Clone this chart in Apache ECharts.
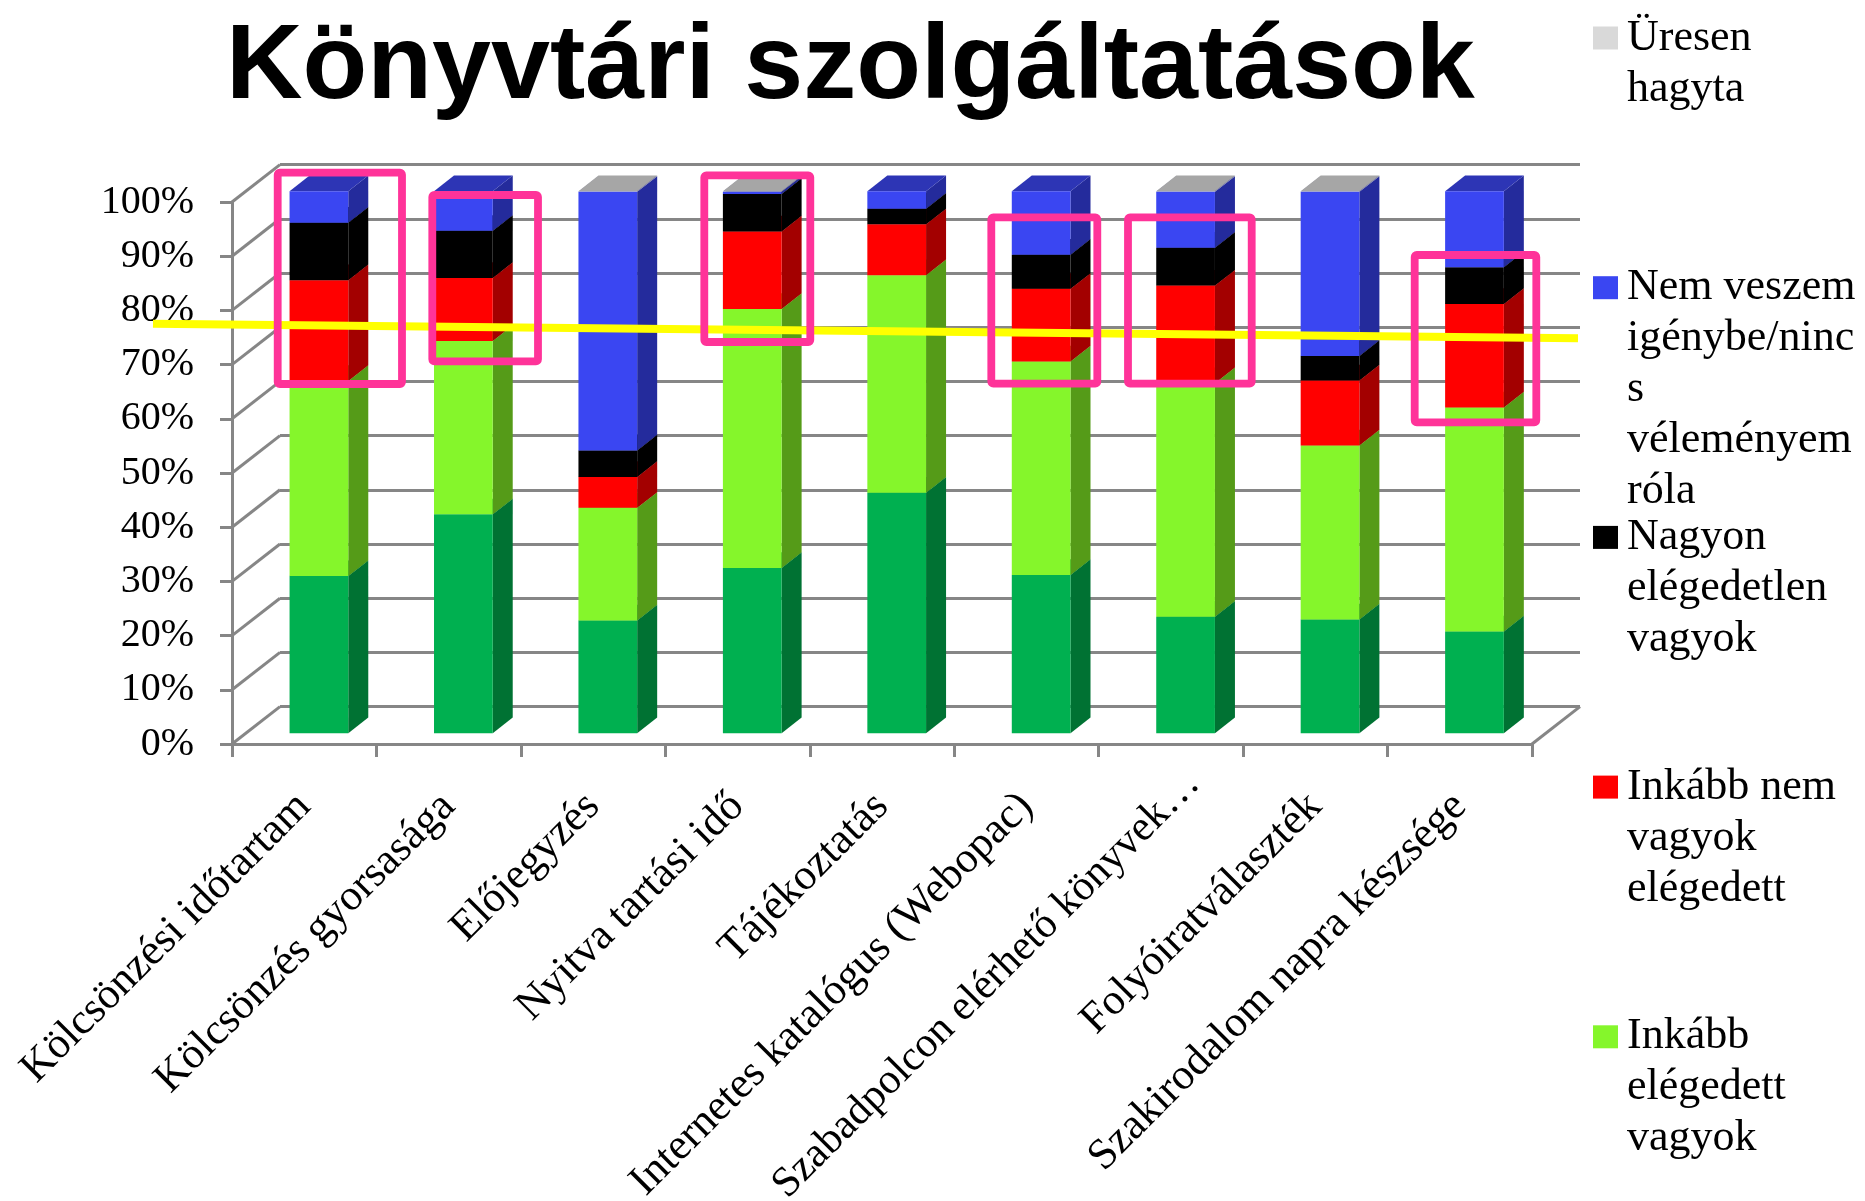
<!DOCTYPE html>
<html>
<head>
<meta charset="utf-8">
<style>html,body{margin:0;padding:0;background:#fff;overflow:hidden}#c{width:1865px;height:1201px}</style>
<script src="https://cdn.jsdelivr.net/npm/echarts@6/dist/echarts.min.js"></script>
</head>
<body>
<div id="c"></div>
<script>
const titleText = 'Könyvtári szolgáltatások';
const categories = ['Kölcsönzési időtartam','Kölcsönzés gyorsasága','Előjegyzés','Nyitva tartási idő','Tájékoztatás','Internetes katalógus (Webopac)','Szabadpolcon elérhető könyvek…','Folyóiratválaszték','Szakirodalom napra készsége'];
const tickValues = [0,10,20,30,40,50,60,70,80,90,100];

const nagyonElegedett = [29.0,40.4,20.8,30.5,44.4,29.2,21.5,21.0,18.8];
const inkabbElegedett = [36.0,32.0,20.8,47.8,40.1,39.4,43.1,32.1,41.3];
const inkabbNem       = [18.6,11.6,5.7,14.3,9.4,13.4,18.0,12.0,19.1];
const nagyonElegedetlen=[10.6,8.7,4.9,6.9,2.9,6.3,7.0,4.5,6.8];
const nemVeszem       = [5.8,7.3,47.7,0.4,3.2,11.7,10.3,30.3,14.0];
const uresen          = [0,0,0.1,0.1,0,0,0.1,0.1,0];

const seriesNames = ['Nagyon elégedett vagyok','Inkább elégedett vagyok','Inkább nem vagyok elégedett','Nagyon elégedetlen vagyok','Nem veszem igénybe/nincs véleményem róla','Üresen hagyta'];
const seriesValues = [nagyonElegedett,inkabbElegedett,inkabbNem,nagyonElegedetlen,nemVeszem,uresen];
const frontColors = ['#00b050','#85f62b','#ff0000','#000000','#3a46f2','#d9d9d9'];
const sideColors  = ['#007233','#559b18','#a30000','#000000','#242b9c','#a6a6a6'];
const topColors   = ['#00853c','#64b820','#c00000','#000000','#2d35b5','#a6a6a6'];

const legendLines = {
  'Üresen hagyta':['Üresen','hagyta'],
  'Nem veszem igénybe/nincs véleményem róla':['Nem veszem','igénybe/ninc','s','véleményem','róla'],
  'Nagyon elégedetlen vagyok':['Nagyon','elégedetlen','vagyok'],
  'Inkább nem vagyok elégedett':['Inkább nem','vagyok','elégedett'],
  'Inkább elégedett vagyok':['Inkább','elégedett','vagyok']
};
const legendOrder = ['Üresen hagyta','Nem veszem igénybe/nincs véleményem róla','Nagyon elégedetlen vagyok','Inkább nem vagyok elégedett','Inkább elégedett vagyok'];

const GRAY = '#868686', SERIF = '"Liberation Serif", serif';
const LEFT = 232, RIGHT_W = 1300, TOP = 202, H = 542;
const WALL_DX = 48, WALL_DY = 37.4, BAR_OX = 14.7, BAR_OY = 10.7, BAR_DX = 20, BAR_DY = 15.7;
const LEG_LH = 51, LEG_X = 1593, LEG_Y0 = 36, LEG_STEP = 249.7;

function barRenderer(si){
  return function(params, api){
    const i = api.value(0), lo = api.value(1), hi = api.value(2);
    if (hi - lo <= 0) return {type:'group', children:[]};
    const c = api.coord([i, lo]), t = api.coord([i, hi]);
    const w = api.size([1,0])[0] * 0.4065;
    const x0 = c[0] + BAR_OX - w/2, x1 = x0 + w;
    const yb = c[1] - BAR_OY, yt = t[1] - BAR_OY;
    return {type:'group', children:[
      {type:'polygon', shape:{points:[[x1,yb],[x1+BAR_DX,yb-BAR_DY],[x1+BAR_DX,yt-BAR_DY],[x1,yt]]}, style:{fill:sideColors[si]}},
      {type:'polygon', shape:{points:[[x0,yt],[x0+BAR_DX,yt-BAR_DY],[x1+BAR_DX,yt-BAR_DY],[x1,yt]]}, style:{fill:topColors[si]}},
      {type:'rect', shape:{x:x0,y:yt,width:w,height:yb-yt}, style:{fill:frontColors[si]}}
    ]};
  };
}
function wallRenderer(params, api){
  const v = api.value(0);
  const p = api.coord([0, v]);
  const cs = params.coordSys;
  const kids = [{type:'line', shape:{x1:cs.x,y1:p[1],x2:cs.x+WALL_DX,y2:p[1]-WALL_DY}, style:{stroke:GRAY,lineWidth:3}}];
  if (v === 0) kids.push({type:'line', shape:{x1:cs.x+cs.width,y1:p[1],x2:cs.x+cs.width+WALL_DX,y2:p[1]-WALL_DY}, style:{stroke:GRAY,lineWidth:3}});
  return {type:'group', children:kids};
}

const barSeries = seriesNames.map(function(name, si){
  const data = categories.map(function(_, i){
    let lo = 0;
    for (let k = 0; k < si; k++) lo += seriesValues[k][i];
    return [i, lo, lo + seriesValues[si][i]];
  });
  return {type:'custom', name:name, xAxisIndex:0, yAxisIndex:0, z:3+si, renderItem:barRenderer(si),
    encode:{x:0,y:[1,2]}, itemStyle:{color:frontColors[si]}, data:data, silent:true, clip:false};
});

const legends = legendOrder.map(function(name){
  const lines = legendLines[name];
  const n = lines.length;
  const total = 2*n - 1;
  const idx = seriesNames.length - 1 - seriesNames.indexOf(name);
  return {
    show:true, orient:'vertical', left:LEG_X, top:LEG_Y0 + idx*LEG_STEP - total*LEG_LH/2,
    padding:0, icon:'rect', itemWidth:25, itemHeight:23, selectedMode:false,
    data:[name],
    formatter:function(){ return '\n'.repeat(n-1) + lines.join('\n'); },
    textStyle:{fontFamily:SERIF,fontSize:44,lineHeight:LEG_LH,color:'#000',padding:[4,0,0,4]}
  };
});

const pinkRects = [
  [277.7,172.7,124.3,211.3],
  [432.3,195,105.7,166.3],
  [704.3,175.3,106,166.7],
  [991.3,217.3,106,166.4],
  [1128,217.3,123.7,166.4],
  [1414.7,255,121.6,167.3]
];

const categoryItems = categories.map(function(c){
  return c.endsWith('…') ? {value:c, textStyle:{fontSize:42.5,padding:[0,-32,0,0]}} : c;
});

const option = {
  animation:false,
  backgroundColor:'#fff',
  title:{text:titleText,left:221,top:11,textStyle:{fontFamily:'"Liberation Sans",Arial,sans-serif',fontWeight:'bold',fontSize:106,color:'#000'}},
  legend:legends,
  grid:[
    {left:LEFT,top:TOP,width:RIGHT_W,height:H,outerBoundsMode:'none'},
    {left:LEFT+WALL_DX,top:TOP-WALL_DY,width:RIGHT_W,height:H,outerBoundsMode:'none'}
  ],
  xAxis:[
    {type:'category',gridIndex:0,data:categoryItems,
     axisLine:{show:true,lineStyle:{color:GRAY,width:3}},
     axisTick:{show:true,length:13,alignWithLabel:false,lineStyle:{color:GRAY,width:3}},
     axisLabel:{interval:0,rotate:45,margin:56,color:'#000',fontFamily:SERIF,fontSize:43.5,hideOverlap:false}},
    {type:'category',gridIndex:1,data:categories,show:false}
  ],
  yAxis:[
    {type:'value',gridIndex:0,min:0,max:100,interval:10,
     axisLine:{show:true,lineStyle:{color:GRAY,width:3}},
     axisTick:{show:true,length:12,lineStyle:{color:GRAY,width:3}},
     splitLine:{show:false},
     axisLabel:{formatter:'{value}%',margin:38,color:'#000',fontFamily:SERIF,fontSize:40}},
    {type:'value',gridIndex:1,min:0,max:100,interval:10,
     axisLine:{show:false},axisTick:{show:false},axisLabel:{show:false},
     splitLine:{show:true,lineStyle:{color:GRAY,width:3}}}
  ],
  series:[{type:'custom',name:'wall',xAxisIndex:0,yAxisIndex:0,z:1,silent:true,clip:false,renderItem:wallRenderer,encode:{y:0},data:tickValues.map(function(v){return [v];})}].concat(barSeries),
  graphic:{elements:[
    {type:'line',z:100,silent:true,shape:{x1:153,y1:323.7,x2:1578,y2:338.3},style:{stroke:'#ffff00',lineWidth:8}}
  ].concat(pinkRects.map(function(r){
    return {type:'rect',z:101,silent:true,shape:{x:r[0],y:r[1],width:r[2],height:r[3],r:2},style:{fill:null,stroke:'#ff3399',lineWidth:7.8}};
  }))}
};
echarts.init(document.getElementById('c')).setOption(option);
</script>
</body>
</html>
